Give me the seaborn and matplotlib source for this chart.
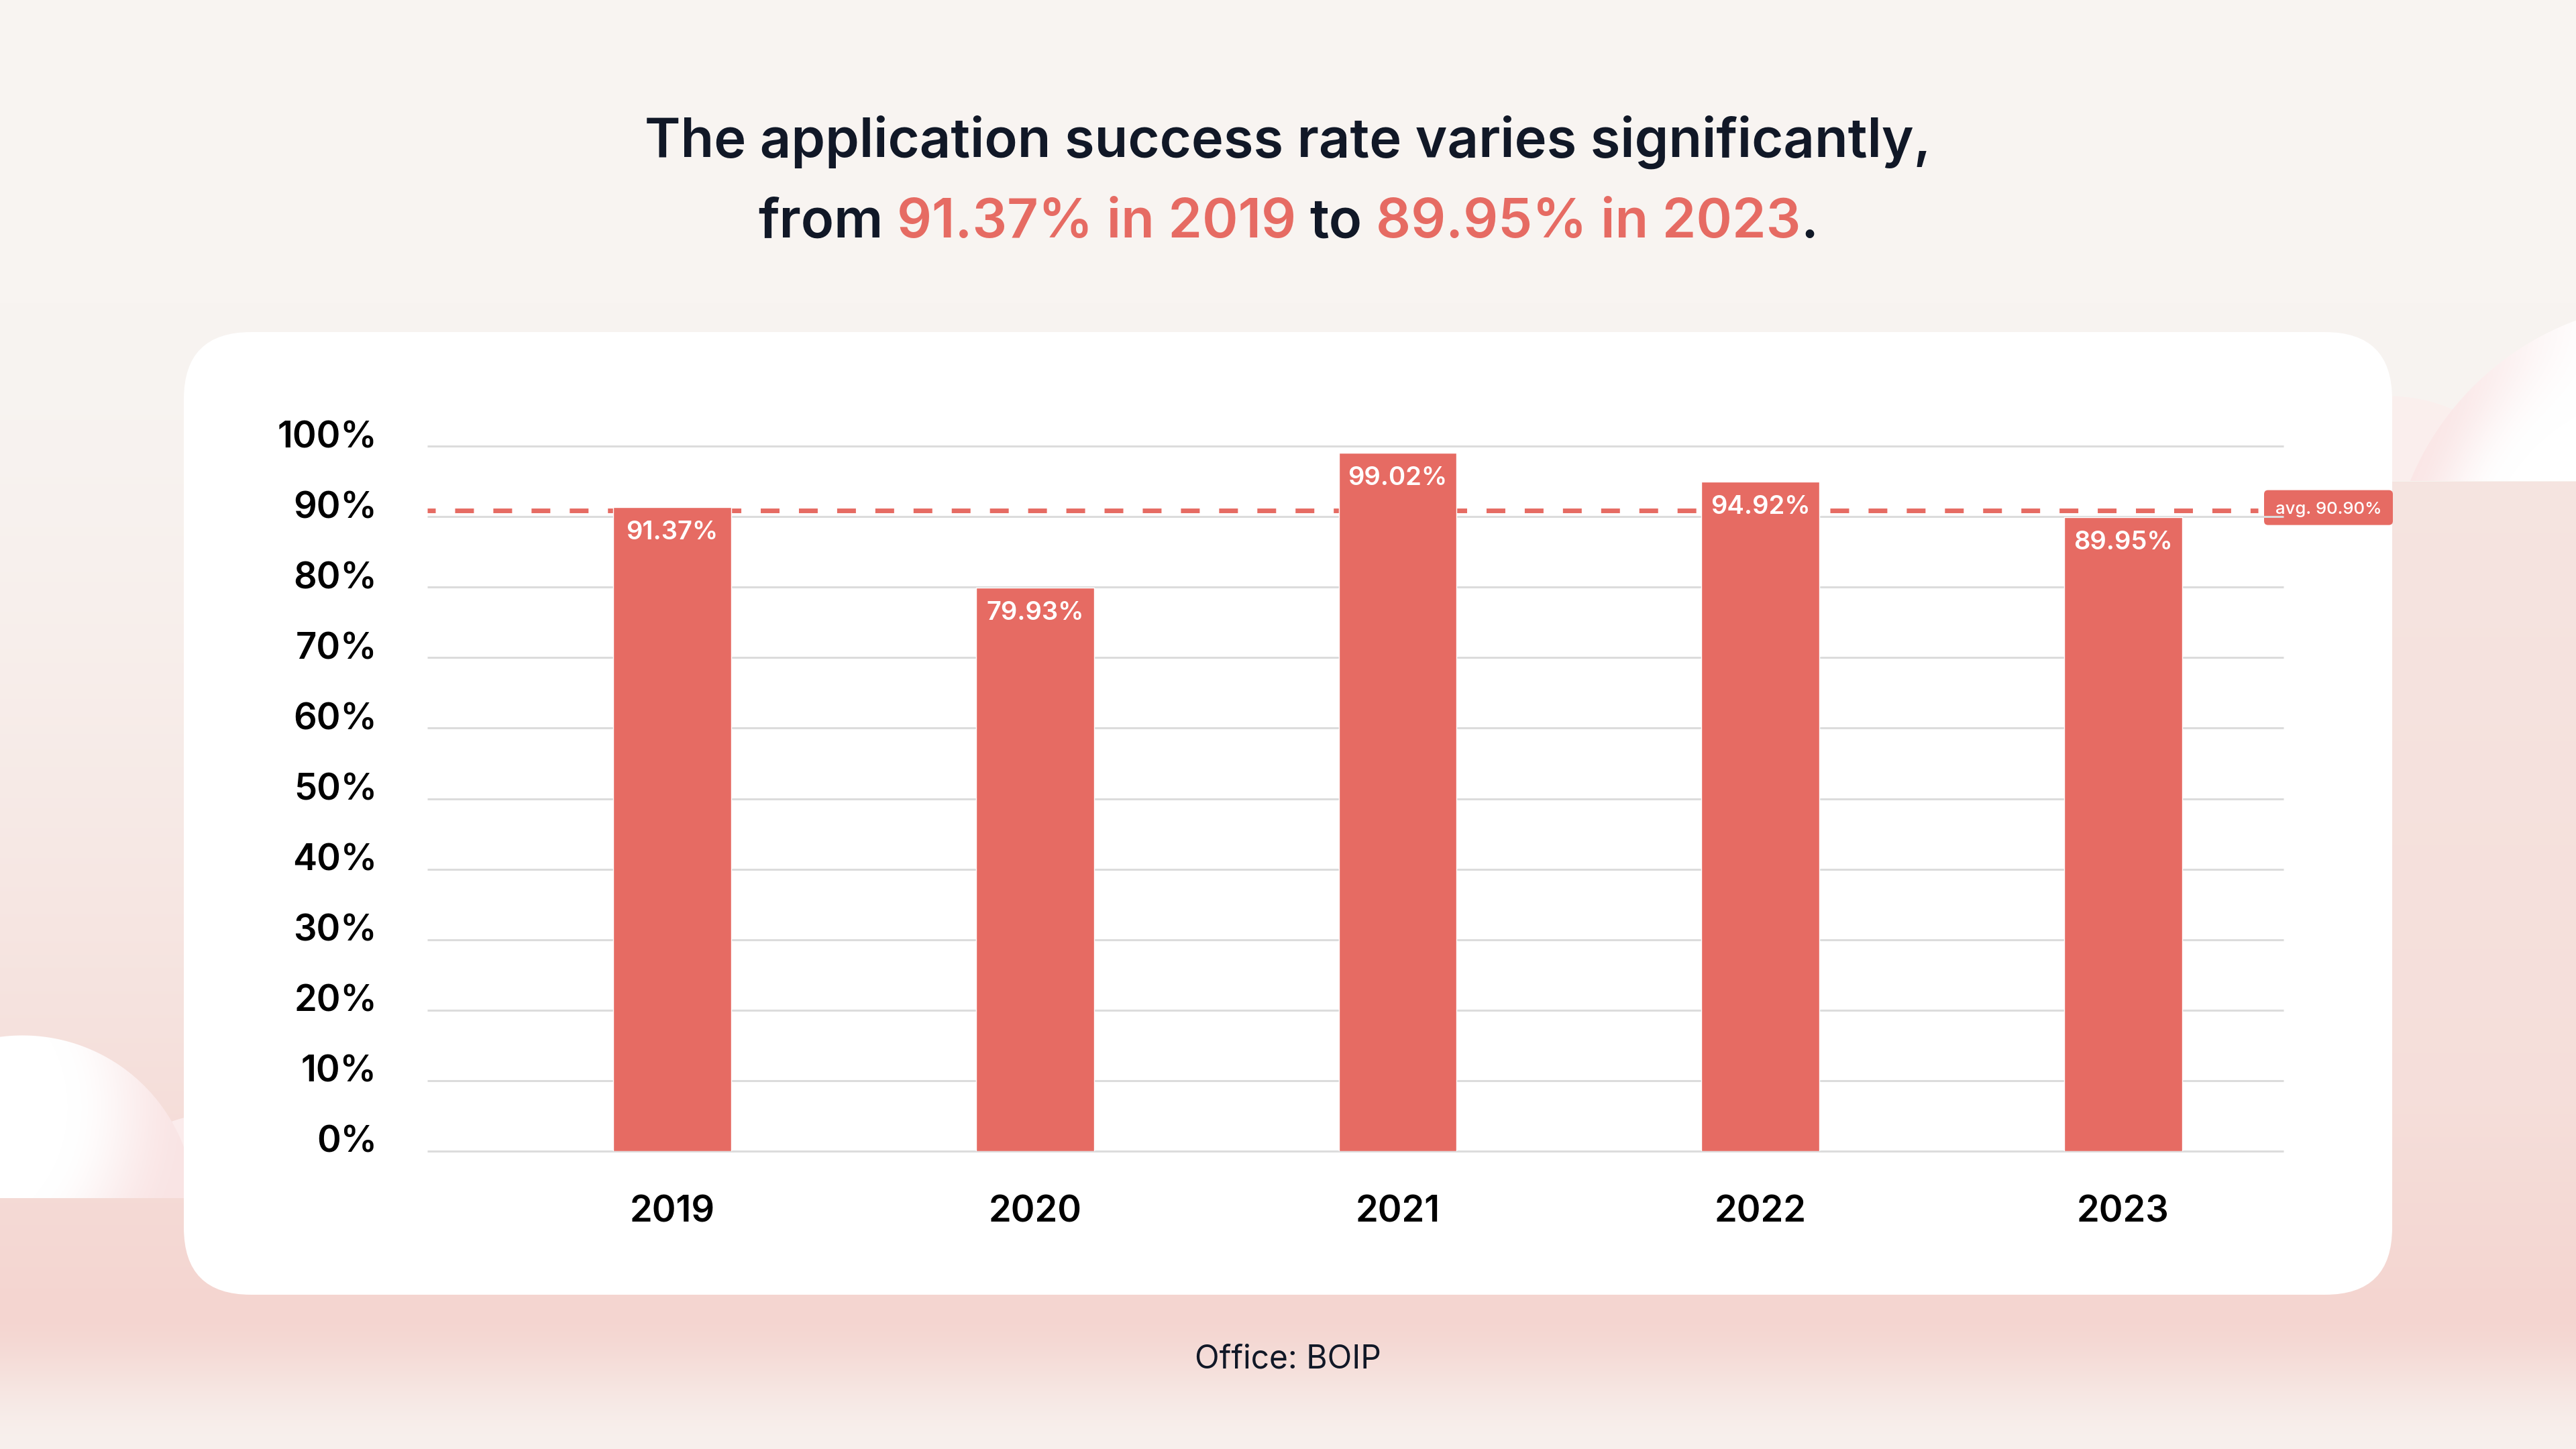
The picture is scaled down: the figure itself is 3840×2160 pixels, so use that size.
import numpy as np
import matplotlib
matplotlib.use("Agg")
import matplotlib.pyplot as plt
import seaborn as sns
import pandas as pd
from matplotlib.patches import FancyBboxPatch
from matplotlib.transforms import IdentityTransform, ScaledTranslation

# ---------------- data ----------------
years = ["2019", "2020", "2021", "2022", "2023"]
rates = [91.37, 79.93, 99.02, 94.92, 89.95]
avg_rate = 90.90
y_ticks = [0, 10, 20, 30, 40, 50, 60, 70, 80, 90, 100]
y_tick_labels = [f"{t}%" for t in y_ticks]
title_line1 = "The application success rate varies significantly,"
source_text = "Office: BOIP"

# ---------------- style ----------------
RED = "#E66B63"
DARK = "#111827"
GRID = "#DCDCDC"
BASE = np.array([248, 244, 241], dtype=np.float32) / 255
PINK = np.array([244, 213, 208], dtype=np.float32) / 255

sns.set_theme(style="white")
plt.rcParams["font.family"] = ["Inter", "DejaVu Sans"]

W, H, DPI = 3840, 2160, 100
fig = plt.figure(figsize=(W / DPI, H / DPI), dpi=DPI)


def smoothstep(e0, e1, v):
    t = np.clip((v - e0) / (e1 - e0), 0, 1)
    return t * t * (3 - 2 * t)


def make_background():
    y = np.arange(H, dtype=np.float32)[:, None]
    x = np.arange(W, dtype=np.float32)[None, :]
    t = np.clip((y - 450) / 1500, 0, 1)
    g_up = t ** 1.6
    g_down = 1 - 0.87 * smoothstep(1950, 2160, y)
    g = np.where(y < 1950, g_up, g_down)
    g = np.broadcast_to(g, (H, W)).copy()
    right_boost = (0.5 + 0.25 * np.clip((y - 717) / 1200, 0, 1)) * (y > 717) \
        * (1 - 0.87 * smoothstep(1940, 2160, y))
    right = (x > 3560)
    g = np.where(right, np.maximum(g, right_boost), g)
    img = BASE[None, None, :] * (1 - g[..., None]) + PINK[None, None, :] * g[..., None]

    def paint(img, alpha, col):
        return img * (1 - alpha[..., None]) + col * alpha[..., None]

    white = np.array([1, 1, 1], dtype=np.float32)
    cpink = np.array([246, 211, 211], dtype=np.float32) / 255

    # left clouds (clipped at y=1786)
    clip_l = (y < 1786).astype(np.float32)
    d2 = np.sqrt((x - 320) ** 2 + (y - 1850) ** 2)
    a2 = np.clip(190 - d2 + 0.5, 0, 1) * clip_l
    img = paint(img, a2, np.array([251, 236, 236], dtype=np.float32) / 255)
    d1 = np.sqrt((x - 33) ** 2 + (y - 1800) ** 2)
    a1 = np.clip(257 - d1 + 0.5, 0, 1) * clip_l
    tint = smoothstep(200, 380, np.sqrt((x + 100) ** 2 + (y - 1650) ** 2)) * 0.6
    col1 = white * (1 - tint[..., None]) + cpink * tint[..., None]
    img = img * (1 - a1[..., None]) + col1 * a1[..., None]

    # right clouds (clipped at y=717)
    clip_r = (y < 717).astype(np.float32)
    d4 = np.sqrt((x - 3560) ** 2 + (y - 830) ** 2)
    a4 = np.clip(240 - d4 + 0.5, 0, 1) * clip_r
    img = paint(img, a4 * 0.8, np.array([251, 238, 237], dtype=np.float32) / 255)
    d3 = np.sqrt((x - 3990) ** 2 + (y - 880) ** 2)
    a3 = np.clip(430 - d3 + 0.5, 0, 1) * clip_r
    tint3 = smoothstep(300, 430, d3) * 0.55 * smoothstep(3900, 3600, x)
    col3 = white * (1 - tint3[..., None]) + cpink * tint3[..., None]
    img = img * (1 - a3[..., None]) + col3 * a3[..., None]
    return np.clip(img, 0, 1)


# ---------------- background + card ----------------
bgax = fig.add_axes([0, 0, 1, 1], zorder=0)
bgax.imshow(make_background(), extent=(0, W, H, 0), aspect="auto", interpolation="bilinear")
bgax.set_xlim(0, W)
bgax.set_ylim(H, 0)
bgax.axis("off")
card = FancyBboxPatch((274, 495), 3566 - 274, 1930 - 495,
                      boxstyle="round,pad=0,rounding_size=100",
                      fc="white", ec="none", zorder=2)
bgax.add_patch(card)

# ---------------- main chart ----------------
L, R, B, T = 637, 3404, 1716, 665
ax = fig.add_axes([L / W, 1 - B / H, (R - L) / W, (B - T) / H], zorder=1)
ax.patch.set_alpha(0)

df = pd.DataFrame({"year": years, "rate": rates})
sns.barplot(data=df, x="year", y="rate", color=RED, saturation=1, width=0.325,
            ax=ax, zorder=3)

ax.set_xlim(-0.675, 4.442)
ax.set_ylim(0, 100)
ax.set_yticks(y_ticks)
ax.set_yticklabels(y_tick_labels)
ax.set_xlabel("")
ax.set_ylabel("")
for s in ax.spines.values():
    s.set_visible(False)
ax.tick_params(axis="y", length=0, pad=54, labelsize=39, labelcolor="black")
ax.tick_params(axis="x", length=0, pad=47.5, labelsize=39, labelcolor="black")
shift = ScaledTranslation(0, -2 / DPI, fig.dpi_scale_trans)
for lab in ax.get_yticklabels():
    lab.set_fontweight("semibold")
    lab.set_va("baseline")
    lab.set_transform(lab.get_transform() + shift)
for lab in ax.get_xticklabels():
    lab.set_fontweight("semibold")

xl = ax.get_xlim()
ax.hlines(y_ticks, xl[0], xl[1], colors=GRID, lw=2.2, zorder=1, clip_on=False)

# average dashed line
ax.axhline(avg_rate, xmin=0, xmax=(3366 - L) / (R - L), color=RED, lw=5,
           linestyle=(2.3, (4.03, 4.17)), zorder=2)

# value labels inside bars
for i, v in enumerate(rates):
    ax.annotate(f"{v:.2f}%", (i, v), xytext=(0, -20), textcoords="offset pixels",
                ha="center", va="top", color="white", fontsize=27.5,
                fontweight="semibold", zorder=5)

# average label box
ypix = ax.transData.transform((0, avg_rate))[1]
box = FancyBboxPatch((3375, ypix - 22), 192, 52,
                     boxstyle="round,pad=0,rounding_size=6",
                     fc=RED, ec="none", transform=IdentityTransform(),
                     clip_on=False, zorder=0.8)
ax.add_patch(box)
ax.text(3471, ypix + 4, f"avg. {avg_rate:.2f}%", transform=IdentityTransform(),
        ha="center", va="center_baseline", color="white", fontsize=18.5,
        fontweight="medium", zorder=5, clip_on=False)

# ---------------- title ----------------
TS = 58.5
bgax.text(1920, 234, title_line1, ha="center", va="baseline", fontsize=TS,
          fontweight="semibold", color=DARK, zorder=5)

renderer = fig.canvas.get_renderer()
pieces = [("from", DARK), (f"{rates[0]:.2f}% in {years[0]}", RED),
          ("to", DARK), (f"{rates[-1]:.2f}% in {years[-1]}", RED), (".", DARK)]
gaps = [True, True, True, False, False]


def text_w(s):
    t = bgax.text(0, 0, s, fontsize=TS, fontweight="semibold")
    w = t.get_window_extent(renderer).width
    t.remove()
    return w


space_w = text_w("a a") - text_w("aa")
widths = [text_w(p) for p, _ in pieces]
total = sum(widths) + space_w * sum(gaps[:-1])
xcur = 1920 - total / 2
for (s, c), w, gp in zip(pieces, widths, gaps):
    bgax.text(xcur, 354, s, ha="left", va="baseline", fontsize=TS,
              fontweight="semibold", color=c, zorder=5)
    xcur += w + (space_w if gp else 0)

# ---------------- source ----------------
bgax.text(1920, 2039, source_text, ha="center", va="baseline", fontsize=34.5,
          color=DARK, zorder=5)

fig.savefig("out.png", dpi=DPI)
